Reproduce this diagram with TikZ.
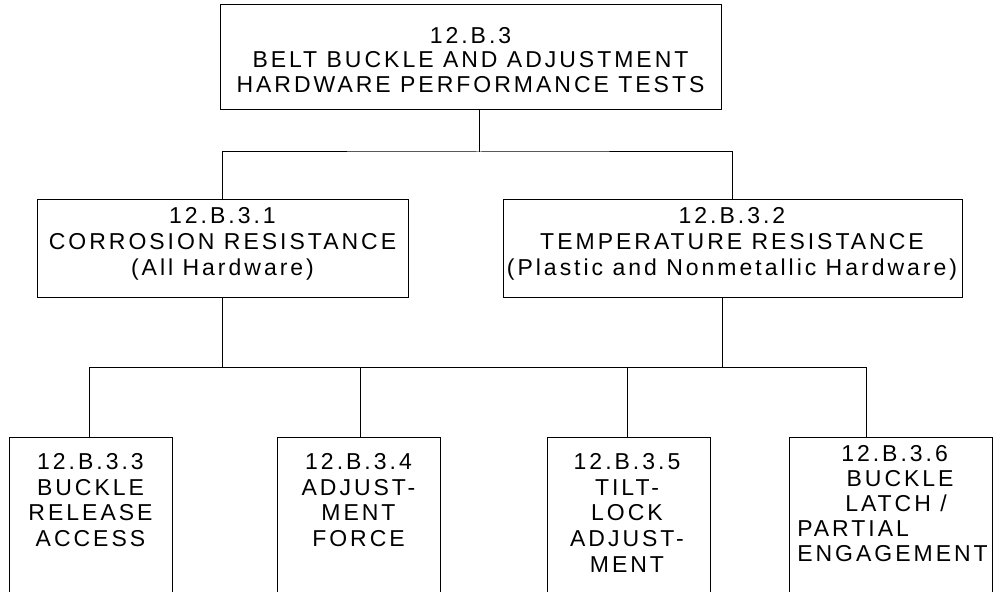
\documentclass[tikz,border=0pt]{standalone}
\usepackage{fontspec}
\setmainfont{Liberation Sans}
\newfontfamily\trk[LetterSpace=13]{Liberation Sans}
\begin{document}
\begin{tikzpicture}[x=0.75pt,y=-0.75pt,
  box/.style={draw, line width=0.75pt, inner sep=0pt},
  conn/.style={line width=0.75pt},
  toptxt/.style={align=center, inner sep=0pt, anchor=north, font=\trk\fontsize{17.25}{18.4}\selectfont},
  midtxt/.style={align=center, inner sep=0pt, anchor=north, font=\trk\fontsize{17.25}{19.6}\selectfont},
  bottxt/.style={align=center, inner sep=0pt, anchor=north, font=\trk\fontsize{17.25}{19.3}\selectfont}]
\useasboundingbox (0,0) rectangle (997,592);
\clip (0,0) rectangle (997,592);
% boxes
\node[box, minimum width=375.75pt, minimum height=78.75pt] (top) at (470.5,57.5) {};
\node[box, minimum width=278.25pt, minimum height=73.5pt] (l) at (222.5,248) {};
\node[box, minimum width=344.25pt, minimum height=73.5pt] (r) at (732.5,248) {};
\node[box, minimum width=122.25pt, minimum height=122.25pt] (b1) at (90.5,518.5) {};
\node[box, minimum width=122.25pt, minimum height=122.25pt] (b2) at (358.5,518.5) {};
\node[box, minimum width=122.25pt, minimum height=122.25pt] (b3) at (628.5,518.5) {};
\node[box, minimum width=152.25pt, minimum height=122.25pt] (b4) at (890.5,518.5) {};
% texts
\node[toptxt] (ttop) at (470.5,27) {12.B.3\\BELT BUCKLE AND ADJUSTMENT\\HARDWARE PERFORMANCE TESTS};
\node[midtxt] (tl) at (222.5,207) {12.B.3.1\\CORROSION RESISTANCE\\(All Hardware)};
\node[midtxt] (tr) at (732,207) {12.B.3.2\\TEMPERATURE RESISTANCE\\(Plastic and Nonmetallic Hardware)};
\node[bottxt] (tb1) at (90.5,453) {12.B.3.3\\BUCKLE\\RELEASE\\ACCESS};
\node[bottxt] (tb2) at (358.5,453) {12.B.3.4\\ADJUST-\\MENT\\FORCE};
\node[bottxt] (tb3) at (627,453) {12.B.3.5\\TILT-\\LOCK\\ADJUST-\\MENT};
\node[bottxt, align=left, anchor=north west, font=\trk\fontsize{17.25}{18.8}\selectfont] (tb4) at (797,445) {\hspace*{33pt}12.B.3.6\\\hspace*{37pt}BUCKLE\\\hspace*{36pt}LATCH /\\PARTIAL\\ENGAGEMENT};
% junctions
\coordinate (j1) at (479,152);
\coordinate (j2) at (722,367);
\coordinate (k1) at (89,367);
\coordinate (k2) at (360,367);
\coordinate (k3) at (627,367);
\coordinate (k4) at (866,367);
% connectors
\draw[conn] (top.south -| j1) -- (j1);
\draw[conn] (l.north) |- (j1) -| (r.north);
\draw[conn] (l.south) -- (l.south |- j2);
\draw[conn] (r.south -| j2) -- (j2);
\draw[conn] (k1) -- (k4);
\draw[conn] (k1) -- (k1 |- b1.north);
\draw[conn] (k2) -- (k2 |- b2.north);
\draw[conn] (k3) -- (k3 |- b3.north);
\draw[conn] (k4) -- (k4 |- b4.north);
\end{tikzpicture}
\end{document}
